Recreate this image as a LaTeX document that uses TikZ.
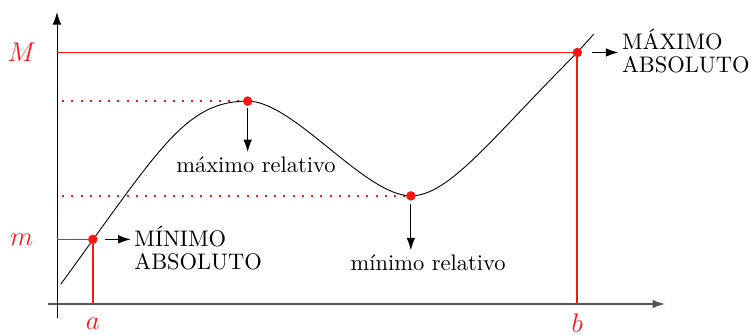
\documentclass[tikz,border=0pt]{standalone}
\usepackage{fontspec}
\usepackage{amsmath, amssymb}
\usepackage{tikz}
\usetikzlibrary{arrows,arrows.meta,positioning,calc}
\definecolor{ExtRed}{RGB}{255, 20, 20}
\definecolor{AxisGray}{RGB}{85, 85, 85}

\begin{document}
\begin{tikzpicture}[
  >={Latex[length=5.5pt, width=3.8pt]},
  point/.style={circle, fill=ExtRed, inner sep=0pt, minimum size=4.2pt},
  guide/.style={ExtRed, line width=0.75pt},
  dots/.style={ExtRed, line width=0.9pt, dash pattern=on 0.9pt off 3.2pt},
  lbl/.style={ExtRed, inner sep=1pt, font=\large},
  absbox/.style={anchor=west, align=left, inner sep=1.5pt}
]
  \useasboundingbox (-0.89,-0.48) rectangle (10.86,4.75);

  % Key points
  \coordinate (O) at (0,0);
  \coordinate (start) at (0.06,0.31);
  \coordinate (am) at (0.56,1.01);
  \coordinate (maxr) at (2.98,3.17);
  \coordinate (minr) at (5.53,1.69);
  \coordinate (bM) at (8.13,3.93);
  \coordinate (stop) at (8.39,4.22);

  % Axes
  \draw[AxisGray, semithick, ->] (-0.14,0) -- (9.50,0);
  \draw[thin, ->] (0,-0.22) -- (0,4.56);

  % Guide lines
  \draw[guide] (bM -| O) -- (bM) -- (bM |- O);
  \draw[guide] (am -| O) -- (am) -- (am |- O);
  \draw[dots] ($(maxr -| O)+(0.08,0)$) -- (maxr);
  \draw[dots] ($(minr -| O)+(0.08,0)$) -- (minr);

  % The function
  \draw (start) .. controls (1.60,2.42) and (2.00,3.17) .. (maxr)
        .. controls (3.70,3.17) and (4.81,1.69) .. (minr)
        .. controls (6.13,1.69) and (6.79,2.59) .. (bM) -- (stop);

  % Extrema
  \foreach \p in {am, maxr, minr, bM} {
    \node[point] (pt-\p) at (\p) {};
  }

  % Axis labels
  \node[lbl] (lM) at (-0.55,3.94) {$M$};
  \node[lbl] (lm) at (-0.55,1.00) {$m$};
  \node[lbl] (la) at (0.56,-0.30) {$a$};
  \node[lbl] (lb) at (8.13,-0.30) {$b$};

  % Descriptions
  \node[absbox] (maxabs) at (8.77,3.96) {MÁXIMO\\[-1.8pt]ABSOLUTO};
  \node[absbox] (minabs) at (1.15,0.88) {MÍNIMO\\[-1.8pt]ABSOLUTO};
  \node[anchor=north, inner sep=2pt] (maxrel) at (3.11,2.375) {máximo relativo};
  \node[anchor=north, inner sep=2pt] (minrel) at (5.80,0.84) {mínimo relativo};

  \draw[->, shorten <=0.23cm] (bM) -- (bM -| maxabs.west);
  \draw[->, shorten <=0.19cm] (am) -- (am -| minabs.west);
  \draw[->, shorten <=0.11cm] (maxr) -- (maxr |- maxrel.north);
  \draw[->, shorten <=0.12cm] (minr) -- (minr |- minrel.north);
\end{tikzpicture}
\end{document}
